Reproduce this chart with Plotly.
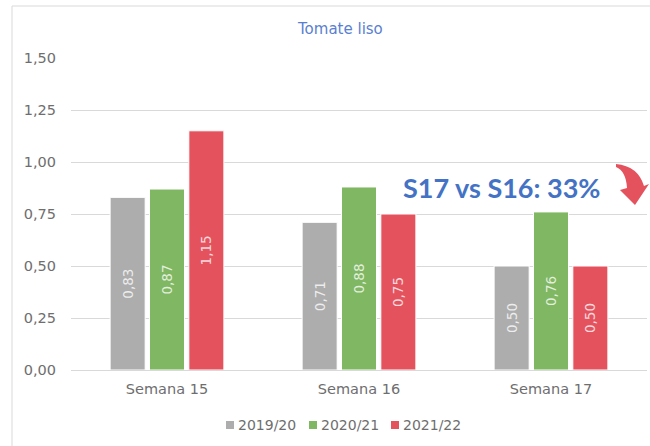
import plotly.graph_objects as go

categories = ["Semana 15", "Semana 16", "Semana 17"]
series_names = ["2019/20", "2020/21", "2021/22"]
values_2019 = [0.83, 0.71, 0.50]
values_2020 = [0.87, 0.88, 0.76]
values_2021 = [1.15, 0.75, 0.50]
y_ticks = [0, 0.25, 0.5, 0.75, 1.0, 1.25, 1.5]
title_text = "Tomate liso"
note_text = "S17 vs S16: 33%"

colors = ["#ADADAD", "#80B762", "#E4525E"]

W, H = 650, 446
ML, MR, MT, MB = 71, 3, 58, 76
PW, PH = W - ML - MR, H - MT - MB


def px(x):
    return (x - ML) / PW


def py(y):
    return (H - MB - y) / PH


FONT = "DejaVu Sans"
TXT = "#6E6E6E"
fig = go.Figure()
for name, vals, col in zip(series_names, [values_2019, values_2020, values_2021], colors):
    fig.add_trace(go.Bar(
        x=categories, y=vals, name=name,
        marker=dict(color=col, line=dict(color="white", width=1)),
        texttemplate="%{y:.2f}", textposition="inside", textangle=-90,
        insidetextanchor="middle",
        insidetextfont=dict(family=FONT, size=13.5, color="rgba(255,255,255,0.78)"),
        hoverinfo="skip", showlegend=False,
    ))

# border of chart area
shapes = [dict(type="rect", xref="paper", yref="paper",
               x0=px(12), x1=px(700), y0=py(500), y1=py(6),
               line=dict(color="#D9D9D9", width=1), fillcolor="rgba(0,0,0,0)", layer="below")]

# curved arrow
pts = [
    ("M", (616, 164)),
    ("Q", (638, 166), (644, 186)),
    ("L", (649, 184)),
    ("L", (635, 205)),
    ("L", (620, 190)),
    ("L", (627, 188)),
    ("Q", (626, 171), (616, 167)),
]
path = ""
for item in pts:
    cmd = item[0]
    coords = " ".join(f"{px(a):.5f},{py(b):.5f}" for a, b in item[1:])
    path += f"{cmd}{coords} "
path += "Z"
shapes.append(dict(type="path", xref="paper", yref="paper", path=path,
                   fillcolor="#E4525E", line=dict(width=0)))

annotations = [
    dict(text=title_text, xref="paper", yref="paper", x=px(340), y=py(29),
         xanchor="center", yanchor="middle", showarrow=False,
         font=dict(family=FONT, size=15, color="#5A7FD0")),
    dict(text=f"<b>{note_text}</b>", xref="paper", yref="paper", x=px(502), y=py(187),
         xanchor="center", yanchor="middle", showarrow=False,
         font=dict(family="Lato", size=27, color="#4472C4")),
]

# legend (keys drawn as small squares followed by the series name)
legend_x = [226, 309, 391]
for lx, name, col in zip(legend_x, series_names, colors):
    shapes.append(dict(type="rect", xref="paper", yref="paper",
                       x0=px(lx), x1=px(lx + 8), y0=py(429), y1=py(421),
                       fillcolor=col, line=dict(width=0)))
    annotations.append(dict(text=name, xref="paper", yref="paper", x=px(lx + 10), y=py(424.5),
                            xanchor="left", yanchor="middle", showarrow=False,
                            font=dict(family=FONT, size=14, color=TXT)))

fig.update_layout(
    width=W, height=H,
    margin=dict(l=ML, r=MR, t=MT, b=MB),
    paper_bgcolor="white", plot_bgcolor="white",
    separators=",.",
    barmode="group", bargap=0.385, bargroupgap=0.11,
    font=dict(family=FONT, color=TXT, size=14.5),
    showlegend=False,
    xaxis=dict(showgrid=False, showline=True, linecolor="#D9D9D9", linewidth=1,
               ticks="", tickfont=dict(size=14.5, color=TXT), ticklabelstandoff=6),
    yaxis=dict(range=[0, 1.5], tickvals=y_ticks, tickformat=".2f",
               showgrid=True, gridcolor="#D9D9D9", gridwidth=1, zeroline=False,
               showline=False, ticks="", ticklabelstandoff=14,
               tickfont=dict(size=14.5, color=TXT)),
    shapes=shapes,
    annotations=annotations,
)

fig.write_html("out.html", config={"displayModeBar": False},
               post_script="document.body.style.margin='0';document.body.style.overflow='hidden';")
